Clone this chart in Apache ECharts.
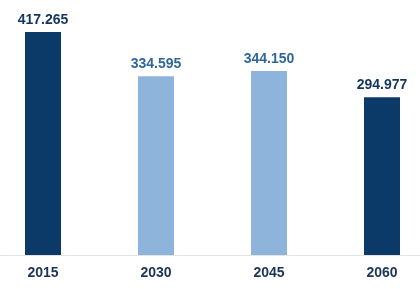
<!DOCTYPE html>
<html>
<head>
<meta charset="utf-8">
<style>html,body{margin:0;padding:0;background:#fff}#c{width:420px;height:289px}</style>
<script src="https://cdn.jsdelivr.net/npm/echarts@6/dist/echarts.min.js"></script>
</head>
<body>
<div id="c"></div>
<script>
var categories = ['2015', '2030', '2045', '2060'];
var values = [417.265, 334.595, 344.150, 294.977];
var barColors = ['#0b3a68', '#8fb4db', '#8fb4db', '#0b3a68'];
var labelColors = ['#13365f', '#2f6799', '#2f6799', '#13365f'];

var chart = echarts.init(document.getElementById('c'), null, {renderer: 'canvas'});
chart.setOption({
  animation: false,
  grid: {left: -13.5, right: -18.5, top: 14.5, bottom: 34, containLabel: false, outerBoundsMode: 'none'},
  xAxis: {
    type: 'category',
    data: categories,
    axisLine: {lineStyle: {color: '#e3e3e3', width: 1}},
    axisTick: {show: false},
    axisLabel: {color: '#1b3558', fontFamily: 'Liberation Sans, Arial', fontWeight: 'bold', fontSize: 14, margin: 11}
  },
  yAxis: {
    type: 'value', min: 0, max: 450,
    show: false,
    splitLine: {show: false}
  },
  series: [{
    type: 'bar',
    barWidth: 36,
    data: values.map(function (v, i) {
      return {
        value: v,
        itemStyle: {color: barColors[i]},
        label: {color: labelColors[i]}
      };
    }),
    label: {
      show: true, position: 'top', distance: 5,
      fontFamily: 'Liberation Sans, Arial', fontWeight: 'bold', fontSize: 14,
      formatter: function (p) { return p.value.toFixed(3); }
    }
  }]
});
</script>
</body>
</html>
